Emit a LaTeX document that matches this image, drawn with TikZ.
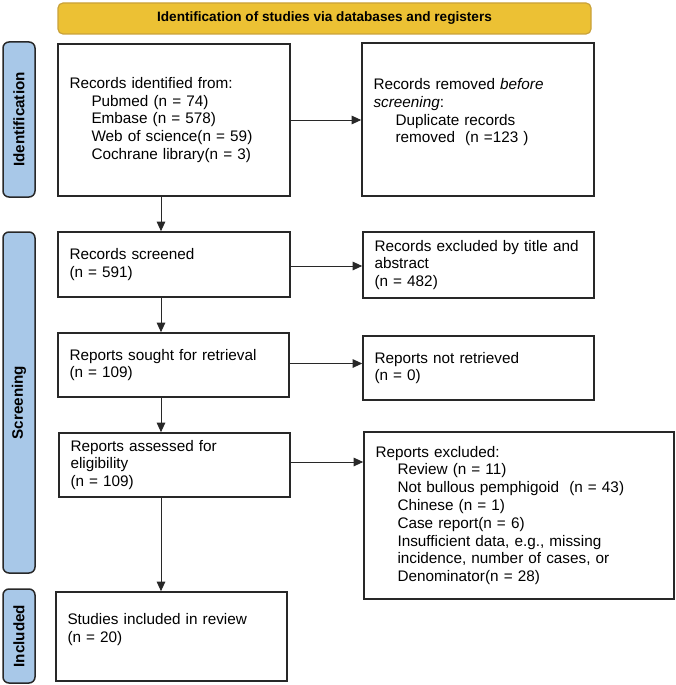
\documentclass[tikz,border=0pt]{standalone}
\usepackage{fontspec}
\setmainfont{Liberation Sans}
\usetikzlibrary{arrows.meta}
\definecolor{bannerfill}{RGB}{236,193,52}
\definecolor{bannerdraw}{RGB}{201,162,58}
\definecolor{sidefill}{RGB}{168,200,232}
\definecolor{boxline}{RGB}{40,40,40}
\begin{document}
\begin{tikzpicture}[x=1pt,y=-1pt,
  box/.style={draw=boxline, line width=1.6pt, rectangle, inner xsep=11.5pt, inner ysep=0pt,
    align=left, font=\fontsize{15.3}{17.8}\selectfont},
  sidelabel/.style={draw=boxline, line width=1.5pt, fill=sidefill, rounded corners=6pt,
    rotate=90, minimum height=32pt, inner sep=0pt, font=\fontsize{15.2}{17}\selectfont\bfseries},
  banner/.style={draw=bannerdraw, line width=1.2pt, fill=bannerfill, rounded corners=5pt,
    minimum width=533pt, minimum height=31pt, inner sep=0pt, font=\fontsize{13.6}{16}\selectfont\bfseries},
  arr/.style={draw=boxline, line width=1pt, -{Triangle[length=9.5pt,width=8.5pt]}},
  ind/.style={}
]
\useasboundingbox (0,0) rectangle (676,685);
\newcommand{\ind}{\hspace*{22pt}}

\node[banner] (ban) at (324.5,18.5) {Identification of studies via databases and registers};

\node[sidelabel, minimum width=155pt] (lid) at (19,119.5) {Identification};
\node[sidelabel, minimum width=341pt] (lsc) at (19,402.5) {Screening};
\node[sidelabel, minimum width=94pt] (lin) at (19,636) {Included};

\node[box, minimum width=232pt, minimum height=152pt, text width=209pt] (b1) at (174,120)
  {Records identified from:\\
   \ind Pubmed (n = 74)\\
   \ind Embase (n = 578)\\
   \ind Web of science(n = 59)\\
   \ind Cochrane library(n = 3)};

\node[box, minimum width=232pt, minimum height=153pt, text width=209pt] (b2) at (478,119.5)
  {Records removed \textit{before}\\
   \textit{screening}:\\
   \ind Duplicate records\\
   \ind removed~ (n =123 )\\
   \mbox{}};

\node[box, minimum width=232pt, minimum height=65pt, text width=209pt] (b3) at (174,264.5)
  {Records screened\\(n = 591)};

\node[box, minimum width=231pt, minimum height=66pt, text width=208pt] (b4) at (478.5,265)
  {Records excluded by title and\\abstract\\(n = 482)};

\node[box, minimum width=231pt, minimum height=64pt, text width=208pt] (b5) at (173.5,365)
  {Reports sought for retrieval\\(n = 109)};

\node[box, minimum width=231pt, minimum height=64pt, text width=208pt] (b6) at (478.5,368)
  {Reports not retrieved\\(n = 0)};

\node[box, minimum width=231pt, minimum height=64pt, text width=208pt] (b7) at (174.5,465)
  {Reports assessed for\\eligibility\\(n = 109)};

\node[box, minimum width=310pt, minimum height=167pt, text width=287pt] (b8) at (519,515.5)
  {Reports excluded:\\
   \ind Review (n = 11)\\
   \ind Not bullous pemphigoid~ (n = 43)\\
   \ind Chinese (n = 1)\\
   \ind Case report(n = 6)\\
   \ind Insufficient data, e.g., missing\\
   \ind incidence, number of cases, or\\
   \ind Denominator(n = 28)};

\node[box, minimum width=231pt, minimum height=89pt, text width=208pt] (b9) at (171.5,636.5)
  {Studies included in review\\(n = 20)\\\mbox{}};

\coordinate (ax) at (161,0);

\draw[arr] (b1.east) -- (b1.east -| b2.west);
\draw[arr] ([yshift=-1.5pt]b3.east) -- ([yshift=-1.5pt]b3.east -| b4.west);
\draw[arr] ([yshift=1.5pt]b5.east) -- ([yshift=1.5pt]b5.east -| b6.west);
\draw[arr] ([yshift=3pt]b7.east) -- ([yshift=3pt]b7.east -| b8.west);

\draw[arr] (b1.south -| ax) -- (b3.north -| ax);
\draw[arr] (b3.south -| ax) -- (b5.north -| ax);
\draw[arr] (b5.south -| ax) -- (b7.north -| ax);
\draw[arr] (b7.south -| ax) -- (b9.north -| ax);
\end{tikzpicture}
\end{document}
